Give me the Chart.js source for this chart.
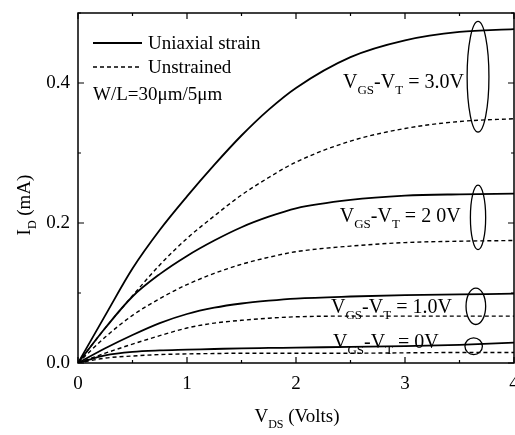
<!DOCTYPE html>
<html>
<head>
<meta charset="utf-8">
<script src="https://cdn.jsdelivr.net/npm/chart.js@4.4.0/dist/chart.umd.min.js"></script>
<style>
  html, body { margin: 0; padding: 0; background: #fff; }
  #wrap { width: 515px; height: 435px; }
</style>
</head>
<body>
<div id="wrap"><canvas id="c" width="515" height="435"></canvas></div>
<script>
// V_DS values (Volts)
const vds = [0, 0.25, 0.5, 0.75, 1, 1.25, 1.5, 1.75, 2, 2.5, 3, 3.5, 4];

// I_D (mA), uniaxial strain
const strained3V = [0, 0.068, 0.135, 0.19, 0.238, 0.283, 0.325, 0.362, 0.393, 0.437, 0.461, 0.473, 0.477];
const strained2V = [0, 0.05, 0.095, 0.127, 0.153, 0.175, 0.194, 0.209, 0.221, 0.233, 0.239, 0.241, 0.242];
const strained1V = [0, 0.021, 0.04, 0.057, 0.07, 0.079, 0.085, 0.089, 0.092, 0.095, 0.097, 0.098, 0.099];
const strained0V = [0, 0.011, 0.016, 0.018, 0.019, 0.02, 0.021, 0.0215, 0.022, 0.023, 0.024, 0.026, 0.029];

// I_D (mA), unstrained
const unstrained3V = [0, 0.05, 0.096, 0.14, 0.178, 0.21, 0.24, 0.265, 0.287, 0.317, 0.335, 0.345, 0.349];
const unstrained2V = [0, 0.037, 0.068, 0.092, 0.112, 0.128, 0.141, 0.151, 0.159, 0.167, 0.172, 0.174, 0.175];
const unstrained1V = [0, 0.014, 0.027, 0.039, 0.05, 0.057, 0.061, 0.064, 0.066, 0.067, 0.067, 0.067, 0.067];
const unstrained0V = [0, 0.007, 0.01, 0.012, 0.013, 0.0135, 0.014, 0.014, 0.014, 0.014, 0.0145, 0.015, 0.015];

// tick labels
const xTickLabels = ["0", "1", "2", "3", "4"];
const yTickLabels = ["0.0", "0.2", "0.4"];

const legendLabels = ["Uniaxial strain", "Unstrained"];
const noteText = "W/L=30\u03bcm/5\u03bcm";
const curveLabels = ["3.0V", "2 0V", "1.0V", "0V"];

const FONT = '"Liberation Serif", "DejaVu Serif", serif';

function pts(arr) { return arr.map((y, i) => ({ x: vds[i], y: y })); }

function ds(arr, dashed) {
  return {
    data: pts(arr),
    borderColor: '#000',
    borderWidth: dashed ? 1.4 : 1.8,
    borderDash: dashed ? [4, 3] : [],
    pointRadius: 0,
    fill: false,
    cubicInterpolationMode: 'monotone'
  };
}

// drawing helper for text with subscripts: parts = [[text, isSub], ...]
function drawParts(ctx, parts, x, y, size, align, subRatio) {
  const subSize = Math.round(size * (subRatio || 0.62));
  let total = 0;
  const widths = parts.map(p => {
    ctx.font = (p[1] ? subSize : size) + 'px ' + FONT;
    const w = ctx.measureText(p[0]).width;
    total += w;
    return w;
  });
  let cx = align === 'right' ? x - total : (align === 'center' ? x - total / 2 : x);
  parts.forEach((p, i) => {
    ctx.font = (p[1] ? subSize : size) + 'px ' + FONT;
    ctx.fillText(p[0], cx, p[1] ? y + size * 0.3 : y);
    cx += widths[i];
  });
}

const decor = {
  id: 'decor',
  afterDatasetsDraw(chart) {
    const ctx = chart.ctx;
    const a = chart.chartArea;
    const xs = chart.scales.x, ys = chart.scales.y;
    ctx.save();
    ctx.strokeStyle = '#000';
    ctx.fillStyle = '#000';
    // frame
    ctx.lineWidth = 1.5;
    ctx.strokeRect(a.left, a.top, a.right - a.left, a.bottom - a.top);
    // inward ticks on all four sides
    ctx.lineWidth = 1.2;
    for (let v = 0; v <= 4.0001; v += 0.5) {
      const px = xs.getPixelForValue(v);
      const len = Math.abs(v - Math.round(v)) < 1e-6 ? 6 : 3;
      ctx.beginPath();
      ctx.moveTo(px, a.bottom); ctx.lineTo(px, a.bottom - len);
      ctx.moveTo(px, a.top); ctx.lineTo(px, a.top + len);
      ctx.stroke();
    }
    for (let k = 0; k <= 5; k++) {
      const v = k * 0.1;
      const py = ys.getPixelForValue(v);
      const len = k % 2 === 0 ? 6 : 3;
      ctx.beginPath();
      ctx.moveTo(a.left, py); ctx.lineTo(a.left + len, py);
      ctx.moveTo(a.right, py); ctx.lineTo(a.right - len, py);
      ctx.stroke();
    }

    // legend
    ctx.textBaseline = 'alphabetic';
    ctx.textAlign = 'left';
    ctx.lineWidth = 1.8;
    ctx.setLineDash([]);
    ctx.beginPath(); ctx.moveTo(93, 43); ctx.lineTo(142, 43); ctx.stroke();
    ctx.lineWidth = 1.4;
    ctx.setLineDash([4, 3]);
    ctx.beginPath(); ctx.moveTo(93, 67); ctx.lineTo(142, 67); ctx.stroke();
    ctx.setLineDash([]);
    ctx.font = '19px ' + FONT;
    ctx.fillText(legendLabels[0], 148, 49);
    ctx.fillText(legendLabels[1], 148, 73);
    ctx.fillText(noteText, 93, 100);

    // curve labels (right edge in data coords, baseline in data coords)
    const labelAnchors = [[3.54, 0.393], [3.51, 0.201], [3.43, 0.071], [3.31, 0.021]];
    labelAnchors.forEach((p, i) => {
      const x = xs.getPixelForValue(p[0]);
      const y = ys.getPixelForValue(p[1]);
      drawParts(ctx, [['V', false], ['GS', true], ['-V', false], ['T', true], [' = ' + curveLabels[i], false]], x, y, 20, 'right', 0.65);
    });

    // ellipses [centerV, centerI, rxV, ryI]
    const ellipses = [[3.67, 0.409, 0.1, 0.079], [3.67, 0.208, 0.07, 0.046], [3.65, 0.081, 0.09, 0.026], [3.63, 0.024, 0.08, 0.012]];
    ctx.lineWidth = 1.3;
    ellipses.forEach(e => {
      const cx = xs.getPixelForValue(e[0]);
      const cy = ys.getPixelForValue(e[1]);
      const rx = xs.getPixelForValue(e[0] + e[2]) - cx;
      const ry = cy - ys.getPixelForValue(e[1] + e[3]);
      ctx.beginPath();
      ctx.ellipse(cx, cy, rx, ry, 0, 0, Math.PI * 2);
      ctx.stroke();
    });

    // axis titles
    drawParts(ctx, [['V', false], ['DS', true], [' (Volts)', false]], 297, 422, 19, 'center');
    ctx.save();
    ctx.translate(30, 205);
    ctx.rotate(-Math.PI / 2);
    drawParts(ctx, [['I', false], ['D', true], [' (mA)', false]], 0, 0, 19, 'center');
    ctx.restore();

    ctx.restore();
  }
};

function noOverflow(s) {
  s.paddingLeft = 0; s.paddingRight = 0; s.paddingTop = 0; s.paddingBottom = 0;
}

new Chart(document.getElementById('c'), {
  type: 'line',
  data: {
    datasets: [
      ds(strained3V, false), ds(unstrained3V, true),
      ds(strained2V, false), ds(unstrained2V, true),
      ds(strained1V, false), ds(unstrained1V, true),
      ds(strained0V, false), ds(unstrained0V, true)
    ]
  },
  options: {
    responsive: false,
    animation: false,
    events: [],
    layout: { padding: { left: 0, top: 13, right: 1, bottom: 0 }, autoPadding: false },
    plugins: { legend: { display: false }, tooltip: { enabled: false } },
    scales: {
      x: {
        type: 'linear', min: 0, max: 4,
        grid: { display: false, drawTicks: false },
        border: { display: false },
        ticks: {
          stepSize: 1, includeBounds: false, padding: 10, color: '#000', maxRotation: 0,
          font: { family: FONT, size: 19 },
          callback: (v) => { const i = Math.round(v); return Math.abs(v - i) < 1e-6 ? xTickLabels[i] : ''; }
        },
        afterFit: (s) => { s.height = 72; noOverflow(s); }
      },
      y: {
        type: 'linear', min: 0, max: 0.5,
        grid: { display: false, drawTicks: false },
        border: { display: false },
        ticks: {
          stepSize: 0.2, includeBounds: false, padding: 8, color: '#000',
          font: { family: FONT, size: 19 },
          callback: (v) => { const i = Math.round(v / 0.2); return Math.abs(v - i * 0.2) < 1e-6 ? (yTickLabels[i] || '') : ''; }
        },
        afterFit: (s) => { s.width = 78; noOverflow(s); }
      }
    }
  },
  plugins: [decor]
});
</script>
</body>
</html>
